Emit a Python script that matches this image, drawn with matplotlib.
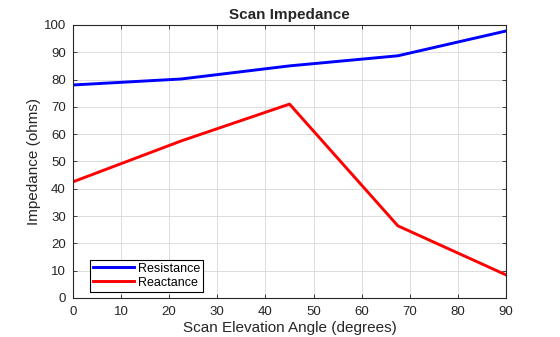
import numpy as np
import matplotlib
matplotlib.use("Agg")
import matplotlib.pyplot as plt

plt.rcParams['font.family'] = ['Liberation Sans', 'DejaVu Sans']

angle = [0, 22.5, 45, 67.5, 90]
resistance = [78.0, 80.2, 85.0, 88.7, 97.8]
reactance = [42.5, 57.5, 71.0, 26.4, 8.4]

fig = plt.figure(figsize=(5.6, 3.37), dpi=100)
ax = fig.add_axes([0.130, 0.116, 0.774, 0.810])

ax.plot(angle, resistance, color='#0000ff', lw=2.1, label='Resistance')
ax.plot(angle, reactance, color='#ff0000', lw=2.1, label='Reactance')

ax.set_xlim(0, 90)
ax.set_ylim(0, 100)
ax.set_xticks(np.arange(0, 91, 10))
ax.set_yticks(np.arange(0, 101, 10))
ax.grid(True, color='#dcdcdc', lw=0.7)
ax.set_axisbelow(True)
ax.tick_params(direction='in', top=True, right=True, labelsize=9.5,
               colors='#262626', length=3, width=0.6)
ax.tick_params(axis='x', pad=6)
ax.tick_params(axis='y', pad=5)
for s in ax.spines.values():
    s.set_color('#262626')
    s.set_linewidth(0.8)

ax.set_title('Scan Impedance', fontsize=11, fontweight='bold', color='#262626', pad=4)
ax.set_xlabel('Scan Elevation Angle (degrees)', fontsize=11, color='#262626', labelpad=2)
ax.set_ylabel('Impedance (ohms)', fontsize=11, color='#262626', labelpad=2)

leg = ax.legend(loc='lower left', fontsize=9, fancybox=False, edgecolor='black',
                framealpha=1, borderpad=0.25, handlelength=3.3, handletextpad=0.3,
                labelspacing=0.15, bbox_to_anchor=(0.025, 0.0))
leg.get_frame().set_linewidth(0.8)

fig.savefig('out.png', dpi=100)
